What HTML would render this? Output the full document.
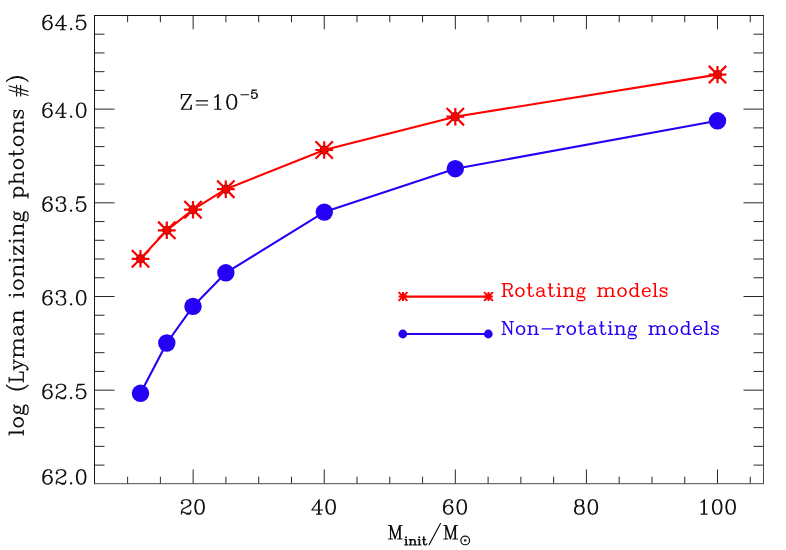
<!DOCTYPE html>
<html><head><meta charset="utf-8"><title>Lyman ionizing photons</title>
<style>html,body{margin:0;padding:0;background:#fff;font-family:"Liberation Sans",sans-serif}svg{display:block}</style>
</head><body>
<svg width="786" height="550" viewBox="0 0 786 550">
<rect width="786" height="550" fill="#fff"/>
<path d="M127.61 483.7V476.7M127.61 15.5V22.25M160.38 483.7V476.7M160.38 15.5V22.25M193.15 483.7V469.5M193.15 15.5V29.3M225.92 483.7V476.7M225.92 15.5V22.25M258.69 483.7V476.7M258.69 15.5V22.25M291.47 483.7V476.7M291.47 15.5V22.25M324.24 483.7V469.5M324.24 15.5V29.3M357.01 483.7V476.7M357.01 15.5V22.25M389.78 483.7V476.7M389.78 15.5V22.25M422.56 483.7V476.7M422.56 15.5V22.25M455.33 483.7V469.5M455.33 15.5V29.3M488.1 483.7V476.7M488.1 15.5V22.25M520.88 483.7V476.7M520.88 15.5V22.25M553.65 483.7V476.7M553.65 15.5V22.25M586.42 483.7V469.5M586.42 15.5V29.3M619.19 483.7V476.7M619.19 15.5V22.25M651.97 483.7V476.7M651.97 15.5V22.25M684.74 483.7V476.7M684.74 15.5V22.25M717.51 483.7V469.5M717.51 15.5V29.3M750.28 483.7V476.7M750.28 15.5V22.25M94.5 465.11h10M763.5 465.11h-10M94.5 446.37h10M763.5 446.37h-10M94.5 427.64h10M763.5 427.64h-10M94.5 408.91h10M763.5 408.91h-10M94.5 390.17h20M763.5 390.17h-20M94.5 371.43h10M763.5 371.43h-10M94.5 352.7h10M763.5 352.7h-10M94.5 333.97h10M763.5 333.97h-10M94.5 315.23h10M763.5 315.23h-10M94.5 296.5h20M763.5 296.5h-20M94.5 277.76h10M763.5 277.76h-10M94.5 259.02h10M763.5 259.02h-10M94.5 240.29h10M763.5 240.29h-10M94.5 221.56h10M763.5 221.56h-10M94.5 202.82h20M763.5 202.82h-20M94.5 184.08h10M763.5 184.08h-10M94.5 165.35h10M763.5 165.35h-10M94.5 146.62h10M763.5 146.62h-10M94.5 127.88h10M763.5 127.88h-10M94.5 109.14h20M763.5 109.14h-20M94.5 90.41h10M763.5 90.41h-10M94.5 71.67h10M763.5 71.67h-10M94.5 52.94h10M763.5 52.94h-10M94.5 34.2h10M763.5 34.2h-10" fill="none" stroke="#1c1c1c" stroke-width="0.95" stroke-linecap="butt" stroke-linejoin="miter"/>
<path d="M94.0 15.5H764.0M94.5 15.5V484.09999999999997" fill="none" stroke="#141414" stroke-width="1"/>
<path d="M763.5 15.5V484.09999999999997" fill="none" stroke="#484848" stroke-width="1"/>
<path d="M94.0 483.7H764.0" fill="none" stroke="#444" stroke-width="0.95"/>
<path d="M140.5 258.8L166.8 230.3L193 209.7L225.8 189.2L324.2 150L455.3 116.7L717.5 74.6" fill="none" stroke="#ff0000" stroke-width="2.1" stroke-linejoin="round"/>
<circle cx="140.5" cy="258.8" r="4.6" fill="#262020"/><circle cx="140.5" cy="258.8" r="3.0" fill="#ff0000"/>
<circle cx="166.8" cy="230.3" r="4.6" fill="#262020"/><circle cx="166.8" cy="230.3" r="3.0" fill="#ff0000"/>
<circle cx="193" cy="209.7" r="4.6" fill="#262020"/><circle cx="193" cy="209.7" r="3.0" fill="#ff0000"/>
<circle cx="225.8" cy="189.2" r="4.6" fill="#262020"/><circle cx="225.8" cy="189.2" r="3.0" fill="#ff0000"/>
<circle cx="324.2" cy="150" r="4.6" fill="#262020"/><circle cx="324.2" cy="150" r="3.0" fill="#ff0000"/>
<circle cx="455.3" cy="116.7" r="4.6" fill="#262020"/><circle cx="455.3" cy="116.7" r="3.0" fill="#ff0000"/>
<circle cx="717.5" cy="74.6" r="4.6" fill="#262020"/><circle cx="717.5" cy="74.6" r="3.0" fill="#ff0000"/>
<path d="M131.6 258.8H149.4M140.5 250.1V267.5M131.8 250.1L149.2 267.5M131.8 267.5L149.2 250.1M157.9 230.3H175.7M166.8 221.6V239M158.1 221.6L175.5 239M158.1 239L175.5 221.6M184.1 209.7H201.9M193 201V218.4M184.3 201L201.7 218.4M184.3 218.4L201.7 201M216.9 189.2H234.7M225.8 180.5V197.9M217.1 180.5L234.5 197.9M217.1 197.9L234.5 180.5M315.3 150H333.1M324.2 141.3V158.7M315.5 141.3L332.9 158.7M315.5 158.7L332.9 141.3M446.4 116.7H464.2M455.3 108V125.4M446.6 108L464 125.4M446.6 125.4L464 108M708.6 74.6H726.4M717.5 65.9V83.3M708.8 65.9L726.2 83.3M708.8 83.3L726.2 65.9" fill="none" stroke="#ff0000" stroke-width="2.2"/>
<path d="M140.5 393.3L166.8 343L193 306.4L225.85 272.8L324.3 212.1L455.3 168.7L717.5 120.8" fill="none" stroke="#2400f5" stroke-width="2.1" stroke-linejoin="round"/>
<circle cx="140.5" cy="393.3" r="8.7" fill="#2400f5"/>
<circle cx="166.8" cy="343" r="8.7" fill="#2400f5"/>
<circle cx="193" cy="306.4" r="8.7" fill="#2400f5"/>
<circle cx="225.85" cy="272.8" r="8.7" fill="#2400f5"/>
<circle cx="324.3" cy="212.1" r="8.7" fill="#2400f5"/>
<circle cx="455.3" cy="168.7" r="8.7" fill="#2400f5"/>
<circle cx="717.5" cy="120.8" r="8.7" fill="#2400f5"/>
<path d="M402.8 296.55H488.3" stroke="#ff0000" stroke-width="2.2" fill="none"/>
<path d="M398.6 296.5H407.4M403 292.1V300.9M398.6 292.1L407.4 300.9M398.6 300.9L407.4 292.1M484.1 296.5H492.9M488.5 292.1V300.9M484.1 292.1L492.9 300.9M484.1 300.9L492.9 292.1" stroke="#ff0000" stroke-width="2.0" fill="none"/>
<path d="M402.8 334.0H488.3" stroke="#2400f5" stroke-width="2.2" fill="none"/>
<circle cx="402.8" cy="334.0" r="4.4" fill="#2400f5"/><circle cx="488.3" cy="334.0" r="4.4" fill="#2400f5"/>
<path d="M50.94 17.37L50.27 18.05L50.94 18.74L51.61 18.05L51.61 17.37L50.94 16L49.6 15.31L47.58 15.31L45.56 16L44.22 17.37L43.55 18.74L42.88 21.48L42.88 25.59L43.55 27.64L44.89 29.02L46.91 29.7L48.25 29.7L50.27 29.02L51.61 27.64L52.28 25.59L52.28 24.91L51.61 22.85L50.27 21.48L48.25 20.79L47.58 20.79L45.56 21.48L44.22 22.85L43.55 24.91M47.58 15.31L46.24 16L44.89 17.37L44.22 18.74L43.55 21.48L43.55 25.59L44.22 27.64L45.56 29.02L46.91 29.7M48.25 29.7L49.6 29.02L50.94 27.64L51.61 25.59L51.61 24.91L50.94 22.85L49.6 21.48L48.25 20.79M62.36 16.68L62.36 29.7M63.04 15.31L63.04 29.7M63.04 15.31L55.64 25.59L66.4 25.59M60.35 29.7L65.05 29.7M71.1 28.33L70.43 29.02L71.1 29.7L71.77 29.02L71.1 28.33M77.82 15.31L76.48 22.16M76.48 22.16L77.82 20.79L79.84 20.11L81.85 20.11L83.87 20.79L85.21 22.16L85.88 24.22L85.88 25.59L85.21 27.64L83.87 29.02L81.85 29.7L79.84 29.7L77.82 29.02L77.15 28.33L76.48 26.96L76.48 26.27L77.15 25.59L77.82 26.27L77.15 26.96M81.85 20.11L83.2 20.79L84.54 22.16L85.21 24.22L85.21 25.59L84.54 27.64L83.2 29.02L81.85 29.7M77.82 15.31L84.54 15.31M77.82 16L81.18 16L84.54 15.31" fill="none" stroke="#111" stroke-width="1.15" stroke-linecap="round" stroke-linejoin="round"/>
<path d="M50.94 105.07L50.27 105.76L50.94 106.44L51.61 105.76L51.61 105.07L50.94 103.7L49.6 103.02L47.58 103.02L45.56 103.7L44.22 105.07L43.55 106.44L42.88 109.18L42.88 113.29L43.55 115.34L44.89 116.72L46.91 117.4L48.25 117.4L50.27 116.72L51.61 115.34L52.28 113.29L52.28 112.61L51.61 110.55L50.27 109.18L48.25 108.5L47.58 108.5L45.56 109.18L44.22 110.55L43.55 112.61M47.58 103.02L46.24 103.7L44.89 105.07L44.22 106.44L43.55 109.18L43.55 113.29L44.22 115.34L45.56 116.72L46.91 117.4M48.25 117.4L49.6 116.72L50.94 115.34L51.61 113.29L51.61 112.61L50.94 110.55L49.6 109.18L48.25 108.5M62.36 104.39L62.36 117.4M63.04 103.02L63.04 117.4M63.04 103.02L55.64 113.29L66.4 113.29M60.35 117.4L65.05 117.4M71.1 116.03L70.43 116.72L71.1 117.4L71.77 116.72L71.1 116.03M80.51 103.02L78.49 103.7L77.15 105.76L76.48 109.18L76.48 111.23L77.15 114.66L78.49 116.72L80.51 117.4L81.85 117.4L83.87 116.72L85.21 114.66L85.88 111.23L85.88 109.18L85.21 105.76L83.87 103.7L81.85 103.02L80.51 103.02M80.51 103.02L79.16 103.7L78.49 104.39L77.82 105.76L77.15 109.18L77.15 111.23L77.82 114.66L78.49 116.03L79.16 116.72L80.51 117.4M81.85 117.4L83.2 116.72L83.87 116.03L84.54 114.66L85.21 111.23L85.21 109.18L84.54 105.76L83.87 104.39L83.2 103.7L81.85 103.02" fill="none" stroke="#111" stroke-width="1.15" stroke-linecap="round" stroke-linejoin="round"/>
<path d="M50.94 198.99L50.27 199.67L50.94 200.36L51.61 199.67L51.61 198.99L50.94 197.62L49.6 196.94L47.58 196.94L45.56 197.62L44.22 198.99L43.55 200.36L42.88 203.1L42.88 207.21L43.55 209.26L44.89 210.63L46.91 211.32L48.25 211.32L50.27 210.63L51.61 209.26L52.28 207.21L52.28 206.53L51.61 204.47L50.27 203.1L48.25 202.41L47.58 202.41L45.56 203.1L44.22 204.47L43.55 206.53M47.58 196.94L46.24 197.62L44.89 198.99L44.22 200.36L43.55 203.1L43.55 207.21L44.22 209.26L45.56 210.63L46.91 211.32M48.25 211.32L49.6 210.63L50.94 209.26L51.61 207.21L51.61 206.53L50.94 204.47L49.6 203.1L48.25 202.41M56.99 199.67L57.66 200.36L56.99 201.04L56.32 200.36L56.32 199.67L56.99 198.31L57.66 197.62L59.68 196.94L62.36 196.94L64.38 197.62L65.05 198.99L65.05 201.04L64.38 202.41L62.36 203.1L60.35 203.1M62.36 196.94L63.71 197.62L64.38 198.99L64.38 201.04L63.71 202.41L62.36 203.1M62.36 203.1L63.71 203.78L65.05 205.16L65.72 206.53L65.72 208.58L65.05 209.95L64.38 210.63L62.36 211.32L59.68 211.32L57.66 210.63L56.99 209.95L56.32 208.58L56.32 207.89L56.99 207.21L57.66 207.89L56.99 208.58M64.38 204.47L65.05 206.53L65.05 208.58L64.38 209.95L63.71 210.63L62.36 211.32M71.1 209.95L70.43 210.63L71.1 211.32L71.77 210.63L71.1 209.95M77.82 196.94L76.48 203.78M76.48 203.78L77.82 202.41L79.84 201.73L81.85 201.73L83.87 202.41L85.21 203.78L85.88 205.84L85.88 207.21L85.21 209.26L83.87 210.63L81.85 211.32L79.84 211.32L77.82 210.63L77.15 209.95L76.48 208.58L76.48 207.89L77.15 207.21L77.82 207.89L77.15 208.58M81.85 201.73L83.2 202.41L84.54 203.78L85.21 205.84L85.21 207.21L84.54 209.26L83.2 210.63L81.85 211.32M77.82 196.94L84.54 196.94M77.82 197.62L81.18 197.62L84.54 196.94" fill="none" stroke="#111" stroke-width="1.15" stroke-linecap="round" stroke-linejoin="round"/>
<path d="M50.94 292.67L50.27 293.35L50.94 294.04L51.61 293.35L51.61 292.67L50.94 291.3L49.6 290.61L47.58 290.61L45.56 291.3L44.22 292.67L43.55 294.04L42.88 296.77L42.88 300.88L43.55 302.94L44.89 304.31L46.91 305L48.25 305L50.27 304.31L51.61 302.94L52.28 300.88L52.28 300.2L51.61 298.14L50.27 296.77L48.25 296.09L47.58 296.09L45.56 296.77L44.22 298.14L43.55 300.2M47.58 290.61L46.24 291.3L44.89 292.67L44.22 294.04L43.55 296.77L43.55 300.88L44.22 302.94L45.56 304.31L46.91 305M48.25 305L49.6 304.31L50.94 302.94L51.61 300.88L51.61 300.2L50.94 298.14L49.6 296.77L48.25 296.09M56.99 293.35L57.66 294.04L56.99 294.72L56.32 294.04L56.32 293.35L56.99 291.98L57.66 291.3L59.68 290.61L62.36 290.61L64.38 291.3L65.05 292.67L65.05 294.72L64.38 296.09L62.36 296.77L60.35 296.77M62.36 290.61L63.71 291.3L64.38 292.67L64.38 294.72L63.71 296.09L62.36 296.77M62.36 296.77L63.71 297.46L65.05 298.83L65.72 300.2L65.72 302.25L65.05 303.62L64.38 304.31L62.36 305L59.68 305L57.66 304.31L56.99 303.62L56.32 302.25L56.32 301.57L56.99 300.88L57.66 301.57L56.99 302.25M64.38 298.14L65.05 300.2L65.05 302.25L64.38 303.62L63.71 304.31L62.36 305M71.1 303.62L70.43 304.31L71.1 305L71.77 304.31L71.1 303.62M80.51 290.61L78.49 291.3L77.15 293.35L76.48 296.77L76.48 298.83L77.15 302.25L78.49 304.31L80.51 305L81.85 305L83.87 304.31L85.21 302.25L85.88 298.83L85.88 296.77L85.21 293.35L83.87 291.3L81.85 290.61L80.51 290.61M80.51 290.61L79.16 291.3L78.49 291.98L77.82 293.35L77.15 296.77L77.15 298.83L77.82 302.25L78.49 303.62L79.16 304.31L80.51 305M81.85 305L83.2 304.31L83.87 303.62L84.54 302.25L85.21 298.83L85.21 296.77L84.54 293.35L83.87 291.98L83.2 291.3L81.85 290.61" fill="none" stroke="#111" stroke-width="1.15" stroke-linecap="round" stroke-linejoin="round"/>
<path d="M50.94 386.34L50.27 387.03L50.94 387.71L51.61 387.03L51.61 386.34L50.94 384.97L49.6 384.29L47.58 384.29L45.56 384.97L44.22 386.34L43.55 387.71L42.88 390.45L42.88 394.56L43.55 396.62L44.89 397.99L46.91 398.67L48.25 398.67L50.27 397.99L51.61 396.62L52.28 394.56L52.28 393.88L51.61 391.82L50.27 390.45L48.25 389.76L47.58 389.76L45.56 390.45L44.22 391.82L43.55 393.88M47.58 384.29L46.24 384.97L44.89 386.34L44.22 387.71L43.55 390.45L43.55 394.56L44.22 396.62L45.56 397.99L46.91 398.67M48.25 398.67L49.6 397.99L50.94 396.62L51.61 394.56L51.61 393.88L50.94 391.82L49.6 390.45L48.25 389.76M56.99 387.03L57.66 387.71L56.99 388.4L56.32 387.71L56.32 387.03L56.99 385.66L57.66 384.97L59.68 384.29L62.36 384.29L64.38 384.97L65.05 385.66L65.72 387.03L65.72 388.4L65.05 389.76L63.04 391.13L59.68 392.5L58.33 393.19L56.99 394.56L56.32 396.62L56.32 398.67M62.36 384.29L63.71 384.97L64.38 385.66L65.05 387.03L65.05 388.4L64.38 389.76L62.36 391.13L59.68 392.5M56.32 397.3L56.99 396.62L58.33 396.62L61.69 397.99L63.71 397.99L65.05 397.3L65.72 396.62M58.33 396.62L61.69 398.67L64.38 398.67L65.05 397.99L65.72 396.62L65.72 395.25M71.1 397.3L70.43 397.99L71.1 398.67L71.77 397.99L71.1 397.3M77.82 384.29L76.48 391.13M76.48 391.13L77.82 389.76L79.84 389.08L81.85 389.08L83.87 389.76L85.21 391.13L85.88 393.19L85.88 394.56L85.21 396.62L83.87 397.99L81.85 398.67L79.84 398.67L77.82 397.99L77.15 397.3L76.48 395.93L76.48 395.25L77.15 394.56L77.82 395.25L77.15 395.93M81.85 389.08L83.2 389.76L84.54 391.13L85.21 393.19L85.21 394.56L84.54 396.62L83.2 397.99L81.85 398.67M77.82 384.29L84.54 384.29M77.82 384.97L81.18 384.97L84.54 384.29" fill="none" stroke="#111" stroke-width="1.15" stroke-linecap="round" stroke-linejoin="round"/>
<path d="M50.94 471.77L50.27 472.46L50.94 473.14L51.61 472.46L51.61 471.77L50.94 470.4L49.6 469.72L47.58 469.72L45.56 470.4L44.22 471.77L43.55 473.14L42.88 475.88L42.88 479.99L43.55 482.05L44.89 483.42L46.91 484.1L48.25 484.1L50.27 483.42L51.61 482.05L52.28 479.99L52.28 479.31L51.61 477.25L50.27 475.88L48.25 475.2L47.58 475.2L45.56 475.88L44.22 477.25L43.55 479.31M47.58 469.72L46.24 470.4L44.89 471.77L44.22 473.14L43.55 475.88L43.55 479.99L44.22 482.05L45.56 483.42L46.91 484.1M48.25 484.1L49.6 483.42L50.94 482.05L51.61 479.99L51.61 479.31L50.94 477.25L49.6 475.88L48.25 475.2M56.99 472.46L57.66 473.14L56.99 473.83L56.32 473.14L56.32 472.46L56.99 471.09L57.66 470.4L59.68 469.72L62.36 469.72L64.38 470.4L65.05 471.09L65.72 472.46L65.72 473.83L65.05 475.2L63.04 476.56L59.68 477.94L58.33 478.62L56.99 479.99L56.32 482.05L56.32 484.1M62.36 469.72L63.71 470.4L64.38 471.09L65.05 472.46L65.05 473.83L64.38 475.2L62.36 476.56L59.68 477.94M56.32 482.73L56.99 482.05L58.33 482.05L61.69 483.42L63.71 483.42L65.05 482.73L65.72 482.05M58.33 482.05L61.69 484.1L64.38 484.1L65.05 483.42L65.72 482.05L65.72 480.68M71.1 482.73L70.43 483.42L71.1 484.1L71.77 483.42L71.1 482.73M80.51 469.72L78.49 470.4L77.15 472.46L76.48 475.88L76.48 477.94L77.15 481.36L78.49 483.42L80.51 484.1L81.85 484.1L83.87 483.42L85.21 481.36L85.88 477.94L85.88 475.88L85.21 472.46L83.87 470.4L81.85 469.72L80.51 469.72M80.51 469.72L79.16 470.4L78.49 471.09L77.82 472.46L77.15 475.88L77.15 477.94L77.82 481.36L78.49 482.73L79.16 483.42L80.51 484.1M81.85 484.1L83.2 483.42L83.87 482.73L84.54 481.36L85.21 477.94L85.21 475.88L84.54 472.46L83.87 471.09L83.2 470.4L81.85 469.72" fill="none" stroke="#111" stroke-width="1.15" stroke-linecap="round" stroke-linejoin="round"/>
<path d="M182.1 502.46L182.77 503.14L182.1 503.83L181.43 503.14L181.43 502.46L182.1 501.09L182.77 500.4L184.79 499.72L187.47 499.72L189.49 500.4L190.16 501.09L190.83 502.46L190.83 503.83L190.16 505.2L188.15 506.56L184.79 507.94L183.44 508.62L182.1 509.99L181.43 512.05L181.43 514.1M187.47 499.72L188.82 500.4L189.49 501.09L190.16 502.46L190.16 503.83L189.49 505.2L187.47 506.56L184.79 507.94M181.43 512.73L182.1 512.05L183.44 512.05L186.8 513.42L188.82 513.42L190.16 512.73L190.83 512.05M183.44 512.05L186.8 514.1L189.49 514.1L190.16 513.42L190.83 512.05L190.83 510.68M198.9 499.72L196.88 500.4L195.54 502.46L194.87 505.88L194.87 507.94L195.54 511.36L196.88 513.42L198.9 514.1L200.24 514.1L202.26 513.42L203.6 511.36L204.27 507.94L204.27 505.88L203.6 502.46L202.26 500.4L200.24 499.72L198.9 499.72M198.9 499.72L197.55 500.4L196.88 501.09L196.21 502.46L195.54 505.88L195.54 507.94L196.21 511.36L196.88 512.73L197.55 513.42L198.9 514.1M200.24 514.1L201.59 513.42L202.26 512.73L202.93 511.36L203.6 507.94L203.6 505.88L202.93 502.46L202.26 501.09L201.59 500.4L200.24 499.72" fill="none" stroke="#111" stroke-width="1.15" stroke-linecap="round" stroke-linejoin="round"/>
<path d="M318.56 501.09L318.56 514.1M319.24 499.72L319.24 514.1M319.24 499.72L311.84 509.99L322.6 509.99M316.55 514.1L321.25 514.1M329.99 499.72L327.97 500.4L326.63 502.46L325.96 505.88L325.96 507.94L326.63 511.36L327.97 513.42L329.99 514.1L331.33 514.1L333.35 513.42L334.69 511.36L335.36 507.94L335.36 505.88L334.69 502.46L333.35 500.4L331.33 499.72L329.99 499.72M329.99 499.72L328.64 500.4L327.97 501.09L327.3 502.46L326.63 505.88L326.63 507.94L327.3 511.36L327.97 512.73L328.64 513.42L329.99 514.1M331.33 514.1L332.68 513.42L333.35 512.73L334.02 511.36L334.69 507.94L334.69 505.88L334.02 502.46L333.35 501.09L332.68 500.4L331.33 499.72" fill="none" stroke="#111" stroke-width="1.15" stroke-linecap="round" stroke-linejoin="round"/>
<path d="M451.67 501.77L451 502.46L451.67 503.14L452.34 502.46L452.34 501.77L451.67 500.4L450.33 499.72L448.31 499.72L446.29 500.4L444.95 501.77L444.28 503.14L443.61 505.88L443.61 509.99L444.28 512.05L445.62 513.42L447.64 514.1L448.98 514.1L451 513.42L452.34 512.05L453.01 509.99L453.01 509.31L452.34 507.25L451 505.88L448.98 505.2L448.31 505.2L446.29 505.88L444.95 507.25L444.28 509.31M448.31 499.72L446.97 500.4L445.62 501.77L444.95 503.14L444.28 505.88L444.28 509.99L444.95 512.05L446.29 513.42L447.64 514.1M448.98 514.1L450.33 513.42L451.67 512.05L452.34 509.99L452.34 509.31L451.67 507.25L450.33 505.88L448.98 505.2M461.08 499.72L459.06 500.4L457.72 502.46L457.05 505.88L457.05 507.94L457.72 511.36L459.06 513.42L461.08 514.1L462.42 514.1L464.44 513.42L465.78 511.36L466.45 507.94L466.45 505.88L465.78 502.46L464.44 500.4L462.42 499.72L461.08 499.72M461.08 499.72L459.73 500.4L459.06 501.09L458.39 502.46L457.72 505.88L457.72 507.94L458.39 511.36L459.06 512.73L459.73 513.42L461.08 514.1M462.42 514.1L463.77 513.42L464.44 512.73L465.11 511.36L465.78 507.94L465.78 505.88L465.11 502.46L464.44 501.09L463.77 500.4L462.42 499.72" fill="none" stroke="#111" stroke-width="1.15" stroke-linecap="round" stroke-linejoin="round"/>
<path d="M578.06 499.72L576.04 500.4L575.37 501.77L575.37 503.83L576.04 505.2L578.06 505.88L580.74 505.88L582.76 505.2L583.43 503.83L583.43 501.77L582.76 500.4L580.74 499.72L578.06 499.72M578.06 499.72L576.71 500.4L576.04 501.77L576.04 503.83L576.71 505.2L578.06 505.88M580.74 505.88L582.09 505.2L582.76 503.83L582.76 501.77L582.09 500.4L580.74 499.72M578.06 505.88L576.04 506.56L575.37 507.25L574.7 508.62L574.7 511.36L575.37 512.73L576.04 513.42L578.06 514.1L580.74 514.1L582.76 513.42L583.43 512.73L584.1 511.36L584.1 508.62L583.43 507.25L582.76 506.56L580.74 505.88M578.06 505.88L576.71 506.56L576.04 507.25L575.37 508.62L575.37 511.36L576.04 512.73L576.71 513.42L578.06 514.1M580.74 514.1L582.09 513.42L582.76 512.73L583.43 511.36L583.43 508.62L582.76 507.25L582.09 506.56L580.74 505.88M592.17 499.72L590.15 500.4L588.81 502.46L588.14 505.88L588.14 507.94L588.81 511.36L590.15 513.42L592.17 514.1L593.51 514.1L595.53 513.42L596.87 511.36L597.54 507.94L597.54 505.88L596.87 502.46L595.53 500.4L593.51 499.72L592.17 499.72M592.17 499.72L590.82 500.4L590.15 501.09L589.48 502.46L588.81 505.88L588.81 507.94L589.48 511.36L590.15 512.73L590.82 513.42L592.17 514.1M593.51 514.1L594.86 513.42L595.53 512.73L596.2 511.36L596.87 507.94L596.87 505.88L596.2 502.46L595.53 501.09L594.86 500.4L593.51 499.72" fill="none" stroke="#111" stroke-width="1.15" stroke-linecap="round" stroke-linejoin="round"/>
<path d="M701.08 502.46L702.43 501.77L704.44 499.72L704.44 514.1M703.77 500.4L703.77 514.1M701.08 514.1L707.13 514.1M716.54 499.72L714.52 500.4L713.18 502.46L712.51 505.88L712.51 507.94L713.18 511.36L714.52 513.42L716.54 514.1L717.88 514.1L719.9 513.42L721.24 511.36L721.91 507.94L721.91 505.88L721.24 502.46L719.9 500.4L717.88 499.72L716.54 499.72M716.54 499.72L715.19 500.4L714.52 501.09L713.85 502.46L713.18 505.88L713.18 507.94L713.85 511.36L714.52 512.73L715.19 513.42L716.54 514.1M717.88 514.1L719.23 513.42L719.9 512.73L720.57 511.36L721.24 507.94L721.24 505.88L720.57 502.46L719.9 501.09L719.23 500.4L717.88 499.72M729.98 499.72L727.96 500.4L726.62 502.46L725.95 505.88L725.95 507.94L726.62 511.36L727.96 513.42L729.98 514.1L731.32 514.1L733.34 513.42L734.68 511.36L735.35 507.94L735.35 505.88L734.68 502.46L733.34 500.4L731.32 499.72L729.98 499.72M729.98 499.72L728.63 500.4L727.96 501.09L727.29 502.46L726.62 505.88L726.62 507.94L727.29 511.36L727.96 512.73L728.63 513.42L729.98 514.1M731.32 514.1L732.67 513.42L733.34 512.73L734.01 511.36L734.68 507.94L734.68 505.88L734.01 502.46L733.34 501.09L732.67 500.4L731.32 499.72" fill="none" stroke="#111" stroke-width="1.15" stroke-linecap="round" stroke-linejoin="round"/>
<path d="M503.84 283.59L503.84 296.4M504.43 283.59L504.43 296.4M502.04 283.59L509.21 283.59L511 284.2L511.6 284.81L512.19 286.03L512.19 287.25L511.6 288.47L511 289.08L509.21 289.69L504.43 289.69M509.21 283.59L510.4 284.2L511 284.81L511.6 286.03L511.6 287.25L511 288.47L510.4 289.08L509.21 289.69M502.04 296.4L506.22 296.4M507.42 289.69L508.61 290.3L509.21 290.91L511 295.18L511.6 295.79L512.19 295.79L512.79 295.18M508.61 290.3L509.21 291.52L510.4 295.79L511 296.4L512.19 296.4L512.79 295.18L512.79 294.57M519.36 287.86L517.57 288.47L516.37 289.69L515.77 291.52L515.77 292.74L516.37 294.57L517.57 295.79L519.36 296.4L520.55 296.4L522.34 295.79L523.54 294.57L524.13 292.74L524.13 291.52L523.54 289.69L522.34 288.47L520.55 287.86L519.36 287.86M519.36 287.86L518.16 288.47L516.97 289.69L516.37 291.52L516.37 292.74L516.97 294.57L518.16 295.79L519.36 296.4M520.55 296.4L521.75 295.79L522.94 294.57L523.54 292.74L523.54 291.52L522.94 289.69L521.75 288.47L520.55 287.86M528.91 283.59L528.91 293.96L529.51 295.79L530.7 296.4L531.89 296.4L533.09 295.79L533.69 294.57M529.51 283.59L529.51 293.96L530.1 295.79L530.7 296.4M527.12 287.86L531.89 287.86M537.86 289.08L537.86 289.69L537.27 289.69L537.27 289.08L537.86 288.47L539.06 287.86L541.45 287.86L542.64 288.47L543.24 289.08L543.83 290.3L543.83 294.57L544.43 295.79L545.03 296.4M543.24 289.08L543.24 294.57L543.83 295.79L545.03 296.4L545.62 296.4M543.24 290.3L542.64 290.91L539.06 291.52L537.27 292.13L536.67 293.35L536.67 294.57L537.27 295.79L539.06 296.4L540.85 296.4L542.04 295.79L543.24 294.57M539.06 291.52L537.86 292.13L537.27 293.35L537.27 294.57L537.86 295.79L539.06 296.4M549.8 283.59L549.8 293.96L550.4 295.79L551.6 296.4L552.79 296.4L553.98 295.79L554.58 294.57M550.4 283.59L550.4 293.96L551 295.79L551.6 296.4M548.01 287.86L552.79 287.86M558.76 283.59L558.16 284.2L558.76 284.81L559.36 284.2L558.76 283.59M558.76 287.86L558.76 296.4M559.36 287.86L559.36 296.4M556.97 287.86L559.36 287.86M556.97 296.4L561.15 296.4M565.33 287.86L565.33 296.4M565.92 287.86L565.92 296.4M565.92 289.69L567.12 288.47L568.91 287.86L570.1 287.86L571.89 288.47L572.49 289.69L572.49 296.4M570.1 287.86L571.3 288.47L571.89 289.69L571.89 296.4M563.53 287.86L565.92 287.86M563.53 296.4L567.71 296.4M570.1 296.4L574.28 296.4M580.25 287.86L579.06 288.47L578.46 289.08L577.86 290.3L577.86 291.52L578.46 292.74L579.06 293.35L580.25 293.96L581.45 293.96L582.64 293.35L583.24 292.74L583.83 291.52L583.83 290.3L583.24 289.08L582.64 288.47L581.45 287.86L580.25 287.86M579.06 288.47L578.46 289.69L578.46 292.13L579.06 293.35M582.64 293.35L583.24 292.13L583.24 289.69L582.64 288.47M583.24 289.08L583.83 288.47L585.03 287.86L585.03 288.47L583.83 288.47M578.46 292.74L577.86 293.35L577.27 294.57L577.27 295.18L577.86 296.4L579.65 297.01L582.64 297.01L584.43 297.62L585.03 298.23M577.27 295.18L577.86 295.79L579.65 296.4L582.64 296.4L584.43 297.01L585.03 298.23L585.03 298.84L584.43 300.06L582.64 300.67L579.06 300.67L577.27 300.06L576.67 298.84L576.67 298.23L577.27 297.01L579.06 296.4M599.36 287.86L599.36 296.4M599.95 287.86L599.95 296.4M599.95 289.69L601.15 288.47L602.94 287.86L604.13 287.86L605.92 288.47L606.52 289.69L606.52 296.4M604.13 287.86L605.33 288.47L605.92 289.69L605.92 296.4M606.52 289.69L607.71 288.47L609.5 287.86L610.7 287.86L612.49 288.47L613.09 289.69L613.09 296.4M610.7 287.86L611.89 288.47L612.49 289.69L612.49 296.4M597.56 287.86L599.95 287.86M597.56 296.4L601.74 296.4M604.13 296.4L608.31 296.4M610.7 296.4L614.88 296.4M621.44 287.86L619.65 288.47L618.46 289.69L617.86 291.52L617.86 292.74L618.46 294.57L619.65 295.79L621.44 296.4L622.64 296.4L624.43 295.79L625.62 294.57L626.22 292.74L626.22 291.52L625.62 289.69L624.43 288.47L622.64 287.86L621.44 287.86M621.44 287.86L620.25 288.47L619.06 289.69L618.46 291.52L618.46 292.74L619.06 294.57L620.25 295.79L621.44 296.4M622.64 296.4L623.83 295.79L625.03 294.57L625.62 292.74L625.62 291.52L625.03 289.69L623.83 288.47L622.64 287.86M636.97 283.59L636.97 296.4M637.56 283.59L637.56 296.4M636.97 289.69L635.77 288.47L634.58 287.86L633.38 287.86L631.59 288.47L630.4 289.69L629.8 291.52L629.8 292.74L630.4 294.57L631.59 295.79L633.38 296.4L634.58 296.4L635.77 295.79L636.97 294.57M633.38 287.86L632.19 288.47L631 289.69L630.4 291.52L630.4 292.74L631 294.57L632.19 295.79L633.38 296.4M635.17 283.59L637.56 283.59M636.97 296.4L639.35 296.4M642.94 291.52L650.1 291.52L650.1 290.3L649.5 289.08L648.91 288.47L647.71 287.86L645.92 287.86L644.13 288.47L642.94 289.69L642.34 291.52L642.34 292.74L642.94 294.57L644.13 295.79L645.92 296.4L647.12 296.4L648.91 295.79L650.1 294.57M649.5 291.52L649.5 289.69L648.91 288.47M645.92 287.86L644.73 288.47L643.53 289.69L642.94 291.52L642.94 292.74L643.53 294.57L644.73 295.79L645.92 296.4M654.88 283.59L654.88 296.4M655.47 283.59L655.47 296.4M653.09 283.59L655.47 283.59M653.09 296.4L657.26 296.4M666.22 289.08L666.82 287.86L666.82 290.3L666.22 289.08L665.62 288.47L664.43 287.86L662.04 287.86L660.85 288.47L660.25 289.08L660.25 290.3L660.85 290.91L662.04 291.52L665.02 292.74L666.22 293.35L666.82 293.96M660.25 289.69L660.85 290.3L662.04 290.91L665.02 292.13L666.22 292.74L666.82 293.35L666.82 295.18L666.22 295.79L665.02 296.4L662.64 296.4L661.44 295.79L660.85 295.18L660.25 293.96L660.25 296.4L660.85 295.18" fill="none" stroke="#ff0000" stroke-width="1.1" stroke-linecap="round" stroke-linejoin="round"/>
<path d="M503.84 321.59L503.84 334.4M504.43 321.59L511.6 333.18M504.43 322.81L511.6 334.4M511.6 321.59L511.6 334.4M502.04 321.59L504.43 321.59M509.81 321.59L513.39 321.59M502.04 334.4L505.63 334.4M519.95 325.86L518.16 326.47L516.97 327.69L516.37 329.52L516.37 330.74L516.97 332.57L518.16 333.79L519.95 334.4L521.15 334.4L522.94 333.79L524.13 332.57L524.73 330.74L524.73 329.52L524.13 327.69L522.94 326.47L521.15 325.86L519.95 325.86M519.95 325.86L518.76 326.47L517.57 327.69L516.97 329.52L516.97 330.74L517.57 332.57L518.76 333.79L519.95 334.4M521.15 334.4L522.34 333.79L523.54 332.57L524.13 330.74L524.13 329.52L523.54 327.69L522.34 326.47L521.15 325.86M529.51 325.86L529.51 334.4M530.1 325.86L530.1 334.4M530.1 327.69L531.3 326.47L533.09 325.86L534.28 325.86L536.07 326.47L536.67 327.69L536.67 334.4M534.28 325.86L535.48 326.47L536.07 327.69L536.07 334.4M527.72 325.86L530.1 325.86M527.72 334.4L531.89 334.4M534.28 334.4L538.46 334.4M542.04 328.91L552.79 328.91M558.16 325.86L558.16 334.4M558.76 325.86L558.76 334.4M558.76 329.52L559.36 327.69L560.55 326.47L561.74 325.86L563.53 325.86L564.13 326.47L564.13 327.08L563.53 327.69L562.94 327.08L563.53 326.47M556.37 325.86L558.76 325.86M556.37 334.4L560.55 334.4M570.7 325.86L568.91 326.47L567.71 327.69L567.12 329.52L567.12 330.74L567.71 332.57L568.91 333.79L570.7 334.4L571.89 334.4L573.68 333.79L574.88 332.57L575.48 330.74L575.48 329.52L574.88 327.69L573.68 326.47L571.89 325.86L570.7 325.86M570.7 325.86L569.5 326.47L568.31 327.69L567.71 329.52L567.71 330.74L568.31 332.57L569.5 333.79L570.7 334.4M571.89 334.4L573.09 333.79L574.28 332.57L574.88 330.74L574.88 329.52L574.28 327.69L573.09 326.47L571.89 325.86M580.25 321.59L580.25 331.96L580.85 333.79L582.04 334.4L583.24 334.4L584.43 333.79L585.03 332.57M580.85 321.59L580.85 331.96L581.45 333.79L582.04 334.4M578.46 325.86L583.24 325.86M589.21 327.08L589.21 327.69L588.61 327.69L588.61 327.08L589.21 326.47L590.4 325.86L592.79 325.86L593.98 326.47L594.58 327.08L595.18 328.3L595.18 332.57L595.77 333.79L596.37 334.4M594.58 327.08L594.58 332.57L595.18 333.79L596.37 334.4L596.97 334.4M594.58 328.3L593.98 328.91L590.4 329.52L588.61 330.13L588.01 331.35L588.01 332.57L588.61 333.79L590.4 334.4L592.19 334.4L593.38 333.79L594.58 332.57M590.4 329.52L589.21 330.13L588.61 331.35L588.61 332.57L589.21 333.79L590.4 334.4M601.15 321.59L601.15 331.96L601.74 333.79L602.94 334.4L604.13 334.4L605.33 333.79L605.92 332.57M601.74 321.59L601.74 331.96L602.34 333.79L602.94 334.4M599.36 325.86L604.13 325.86M610.1 321.59L609.5 322.2L610.1 322.81L610.7 322.2L610.1 321.59M610.1 325.86L610.1 334.4M610.7 325.86L610.7 334.4M608.31 325.86L610.7 325.86M608.31 334.4L612.49 334.4M616.67 325.86L616.67 334.4M617.26 325.86L617.26 334.4M617.26 327.69L618.46 326.47L620.25 325.86L621.44 325.86L623.24 326.47L623.83 327.69L623.83 334.4M621.44 325.86L622.64 326.47L623.24 327.69L623.24 334.4M614.88 325.86L617.26 325.86M614.88 334.4L619.06 334.4M621.44 334.4L625.62 334.4M631.59 325.86L630.4 326.47L629.8 327.08L629.21 328.3L629.21 329.52L629.8 330.74L630.4 331.35L631.59 331.96L632.79 331.96L633.98 331.35L634.58 330.74L635.17 329.52L635.17 328.3L634.58 327.08L633.98 326.47L632.79 325.86L631.59 325.86M630.4 326.47L629.8 327.69L629.8 330.13L630.4 331.35M633.98 331.35L634.58 330.13L634.58 327.69L633.98 326.47M634.58 327.08L635.17 326.47L636.37 325.86L636.37 326.47L635.17 326.47M629.8 330.74L629.21 331.35L628.61 332.57L628.61 333.18L629.21 334.4L631 335.01L633.98 335.01L635.77 335.62L636.37 336.23M628.61 333.18L629.21 333.79L631 334.4L633.98 334.4L635.77 335.01L636.37 336.23L636.37 336.84L635.77 338.06L633.98 338.67L630.4 338.67L628.61 338.06L628.01 336.84L628.01 336.23L628.61 335.01L630.4 334.4M650.7 325.86L650.7 334.4M651.29 325.86L651.29 334.4M651.29 327.69L652.49 326.47L654.28 325.86L655.47 325.86L657.26 326.47L657.86 327.69L657.86 334.4M655.47 325.86L656.67 326.47L657.26 327.69L657.26 334.4M657.86 327.69L659.06 326.47L660.85 325.86L662.04 325.86L663.83 326.47L664.43 327.69L664.43 334.4M662.04 325.86L663.23 326.47L663.83 327.69L663.83 334.4M648.91 325.86L651.29 325.86M648.91 334.4L653.09 334.4M655.47 334.4L659.65 334.4M662.04 334.4L666.22 334.4M672.79 325.86L671 326.47L669.8 327.69L669.2 329.52L669.2 330.74L669.8 332.57L671 333.79L672.79 334.4L673.98 334.4L675.77 333.79L676.97 332.57L677.56 330.74L677.56 329.52L676.97 327.69L675.77 326.47L673.98 325.86L672.79 325.86M672.79 325.86L671.59 326.47L670.4 327.69L669.8 329.52L669.8 330.74L670.4 332.57L671.59 333.79L672.79 334.4M673.98 334.4L675.17 333.79L676.37 332.57L676.97 330.74L676.97 329.52L676.37 327.69L675.17 326.47L673.98 325.86M688.31 321.59L688.31 334.4M688.9 321.59L688.9 334.4M688.31 327.69L687.11 326.47L685.92 325.86L684.73 325.86L682.93 326.47L681.74 327.69L681.14 329.52L681.14 330.74L681.74 332.57L682.93 333.79L684.73 334.4L685.92 334.4L687.11 333.79L688.31 332.57M684.73 325.86L683.53 326.47L682.34 327.69L681.74 329.52L681.74 330.74L682.34 332.57L683.53 333.79L684.73 334.4M686.52 321.59L688.9 321.59M688.31 334.4L690.7 334.4M694.28 329.52L701.44 329.52L701.44 328.3L700.85 327.08L700.25 326.47L699.05 325.86L697.26 325.86L695.47 326.47L694.28 327.69L693.68 329.52L693.68 330.74L694.28 332.57L695.47 333.79L697.26 334.4L698.46 334.4L700.25 333.79L701.44 332.57M700.85 329.52L700.85 327.69L700.25 326.47M697.26 325.86L696.07 326.47L694.88 327.69L694.28 329.52L694.28 330.74L694.88 332.57L696.07 333.79L697.26 334.4M706.22 321.59L706.22 334.4M706.82 321.59L706.82 334.4M704.43 321.59L706.82 321.59M704.43 334.4L708.61 334.4M717.56 327.08L718.16 325.86L718.16 328.3L717.56 327.08L716.96 326.47L715.77 325.86L713.38 325.86L712.19 326.47L711.59 327.08L711.59 328.3L712.19 328.91L713.38 329.52L716.37 330.74L717.56 331.35L718.16 331.96M711.59 327.69L712.19 328.3L713.38 328.91L716.37 330.13L717.56 330.74L718.16 331.35L718.16 333.18L717.56 333.79L716.37 334.4L713.98 334.4L712.79 333.79L712.19 333.18L711.59 331.96L711.59 334.4L712.19 333.18" fill="none" stroke="#2400f5" stroke-width="1.1" stroke-linecap="round" stroke-linejoin="round"/>
<path d="M190.56 94.5L181.33 109.2M191.27 94.5L182.04 109.2M182.04 94.5L181.33 98.7L181.33 94.5L191.27 94.5M181.33 109.2L191.27 109.2L191.27 105L190.56 109.2M196.24 100.8L207.6 100.8M196.24 105L207.6 105M214.7 97.3L216.12 96.6L218.25 94.5L218.25 109.2M217.54 95.2L217.54 109.2M214.7 109.2L221.09 109.2M231.03 94.5L228.9 95.2L227.48 97.3L226.77 100.8L226.77 102.9L227.48 106.4L228.9 108.5L231.03 109.2L232.45 109.2L234.58 108.5L236 106.4L236.71 102.9L236.71 100.8L236 97.3L234.58 95.2L232.45 94.5L231.03 94.5M231.03 94.5L229.61 95.2L228.9 95.9L228.19 97.3L227.48 100.8L227.48 102.9L228.19 106.4L228.9 107.8L229.61 108.5L231.03 109.2M232.45 109.2L233.87 108.5L234.58 107.8L235.29 106.4L236 102.9L236 100.8L235.29 97.3L234.58 95.9L233.87 95.2L232.45 94.5" fill="none" stroke="#111" stroke-width="1.15" stroke-linecap="round" stroke-linejoin="round"/>
<path d="M240.98 94.75L248.54 94.75M252.32 89.95L251.48 93.95M251.48 93.95L252.32 93.15L253.58 92.75L254.84 92.75L256.1 93.15L256.94 93.95L257.36 95.15L257.36 95.95L256.94 97.15L256.1 97.95L254.84 98.35L253.58 98.35L252.32 97.95L251.9 97.55L251.48 96.75L251.48 96.35L251.9 95.95L252.32 96.35L251.9 96.75M254.84 92.75L255.68 93.15L256.52 93.95L256.94 95.15L256.94 95.95L256.52 97.15L255.68 97.95L254.84 98.35M252.32 89.95L256.52 89.95M252.32 90.35L254.42 90.35L256.52 89.95" fill="none" stroke="#111" stroke-width="1.15" stroke-linecap="round" stroke-linejoin="round"/>
<path d="M9.12 432.89L23.3 432.89M9.12 432.23L23.3 432.23M9.12 434.88L9.12 432.23M23.3 434.88L23.3 430.24M13.85 422.96L14.53 424.95L15.88 426.27L17.9 426.93L19.25 426.93L21.27 426.27L22.62 424.95L23.3 422.96L23.3 421.64L22.62 419.65L21.27 418.33L19.25 417.66L17.9 417.66L15.88 418.33L14.53 419.65L13.85 421.64L13.85 422.96M13.85 422.96L14.53 424.28L15.88 425.61L17.9 426.27L19.25 426.27L21.27 425.61L22.62 424.28L23.3 422.96M23.3 421.64L22.62 420.31L21.27 418.99L19.25 418.33L17.9 418.33L15.88 418.99L14.53 420.31L13.85 421.64M13.85 410.38L14.53 411.71L15.2 412.37L16.55 413.03L17.9 413.03L19.25 412.37L19.93 411.71L20.6 410.38L20.6 409.06L19.93 407.73L19.25 407.07L17.9 406.41L16.55 406.41L15.2 407.07L14.53 407.73L13.85 409.06L13.85 410.38M14.53 411.71L15.88 412.37L18.57 412.37L19.93 411.71M19.93 407.73L18.58 407.07L15.88 407.07L14.53 407.73M15.2 407.07L14.53 406.41L13.85 405.09L14.53 405.09L14.53 406.41M19.25 412.37L19.93 413.03L21.27 413.69L21.95 413.69L23.3 413.03L23.98 411.04L23.98 407.73L24.65 405.75L25.33 405.09M21.95 413.69L22.62 413.03L23.3 411.04L23.3 407.73L23.98 405.75L25.33 405.09L26 405.09L27.35 405.75L28.03 407.73L28.03 411.71L27.35 413.69L26 414.35L25.33 414.35L23.98 413.69L23.3 411.71M6.43 385.23L7.78 386.55L9.8 387.87L12.5 389.2L15.88 389.86L18.58 389.86L21.95 389.2L24.65 387.87L26.68 386.55L28.03 385.23M7.78 386.55L10.48 387.87L12.5 388.54L15.88 389.2L18.58 389.2L21.95 388.54L23.98 387.87L26.68 386.55M9.13 379.93L23.3 379.93M9.13 379.27L23.3 379.27M9.13 381.92L9.13 377.28M23.3 381.92L23.3 371.99L19.25 371.99L23.3 372.65M13.85 368.68L23.3 364.7M13.85 368.01L21.95 364.7M13.85 360.73L23.3 364.7L26 366.03L27.35 367.35L28.03 368.68L28.03 369.34L27.35 370L26.68 369.34L27.35 368.68M13.85 370L13.85 366.03M13.85 363.38L13.85 359.41M13.85 355.44L23.3 355.44M13.85 354.77L23.3 354.77M15.88 354.77L14.53 353.45L13.85 351.46L13.85 350.14L14.53 348.15L15.88 347.49L23.3 347.49M13.85 350.14L14.53 348.82L15.88 348.15L23.3 348.15M15.88 347.49L14.53 346.17L13.85 344.18L13.85 342.86L14.53 340.87L15.88 340.21L23.3 340.21M13.85 342.86L14.53 341.53L15.88 340.87L23.3 340.87M13.85 357.42L13.85 354.77M23.3 357.42L23.3 352.79M23.3 350.14L23.3 345.51M23.3 342.86L23.3 338.22M15.2 333.59L15.88 333.59L15.88 334.25L15.2 334.25L14.53 333.59L13.85 332.27L13.85 329.62L14.53 328.29L15.2 327.63L16.55 326.97L21.28 326.97L22.63 326.31L23.3 325.65M15.2 327.63L21.28 327.63L22.63 326.97L23.3 325.65L23.3 324.98M16.55 327.63L17.23 328.29L17.9 332.27L18.58 334.25L19.93 334.91L21.28 334.91L22.63 334.25L23.3 332.27L23.3 330.28L22.63 328.96L21.28 327.63M17.9 332.27L18.58 333.59L19.93 334.25L21.28 334.25L22.63 333.59L23.3 332.27M13.85 320.35L23.3 320.35M13.85 319.69L23.3 319.69M15.88 319.69L14.53 318.36L13.85 316.38L13.85 315.05L14.53 313.07L15.88 312.41L23.3 312.41M13.85 315.05L14.53 313.73L15.88 313.07L23.3 313.07M13.85 322.34L13.85 319.69M23.3 322.34L23.3 317.7M23.3 315.05L23.3 310.42M9.13 295.19L9.8 295.86L10.48 295.19L9.8 294.53L9.13 295.19M13.85 295.19L23.3 295.19M13.85 294.53L23.3 294.53M13.85 297.18L13.85 294.53M23.3 297.18L23.3 292.55M13.85 285.26L14.53 287.25L15.88 288.57L17.9 289.24L19.25 289.24L21.28 288.57L22.63 287.25L23.3 285.26L23.3 283.94L22.63 281.95L21.28 280.63L19.25 279.97L17.9 279.97L15.88 280.63L14.53 281.95L13.85 283.94L13.85 285.26M13.85 285.26L14.53 286.59L15.88 287.91L17.9 288.57L19.25 288.57L21.28 287.91L22.63 286.59L23.3 285.26M23.3 283.94L22.63 282.62L21.28 281.29L19.25 280.63L17.9 280.63L15.88 281.29L14.53 282.62L13.85 283.94M13.85 274.67L23.3 274.67M13.85 274.01L23.3 274.01M15.88 274.01L14.53 272.69L13.85 270.7L13.85 269.38L14.53 267.39L15.88 266.73L23.3 266.73M13.85 269.38L14.53 268.05L15.88 267.39L23.3 267.39M13.85 276.66L13.85 274.01M23.3 276.66L23.3 272.02M23.3 269.38L23.3 264.74M9.13 260.11L9.8 260.77L10.48 260.11L9.8 259.45L9.13 260.11M13.85 260.11L23.3 260.11M13.85 259.45L23.3 259.45M13.85 262.09L13.85 259.45M23.3 262.09L23.3 257.46M13.85 246.87L23.3 254.15M13.85 246.21L23.3 253.49M13.85 253.49L16.55 254.15L13.85 254.15L13.85 246.21M23.3 254.15L23.3 246.21L20.6 246.21L23.3 246.87M9.13 240.91L9.8 241.57L10.48 240.91L9.8 240.25L9.13 240.91M13.85 240.91L23.3 240.91M13.85 240.25L23.3 240.25M13.85 242.9L13.85 240.25M23.3 242.9L23.3 238.26M13.85 233.63L23.3 233.63M13.85 232.97L23.3 232.97M15.88 232.97L14.53 231.64L13.85 229.66L13.85 228.33L14.53 226.35L15.88 225.68L23.3 225.68M13.85 228.33L14.53 227.01L15.88 226.35L23.3 226.35M13.85 235.61L13.85 232.97M23.3 235.61L23.3 230.98M23.3 228.33L23.3 223.7M13.85 217.08L14.53 218.4L15.2 219.06L16.55 219.73L17.9 219.73L19.25 219.06L19.93 218.4L20.6 217.08L20.6 215.75L19.93 214.43L19.25 213.77L17.9 213.11L16.55 213.11L15.2 213.77L14.53 214.43L13.85 215.75L13.85 217.08M14.53 218.4L15.88 219.06L18.58 219.06L19.93 218.4M19.93 214.43L18.58 213.77L15.88 213.77L14.53 214.43M15.2 213.77L14.53 213.11L13.85 211.78L14.53 211.78L14.53 213.11M19.25 219.06L19.93 219.73L21.28 220.39L21.95 220.39L23.3 219.73L23.98 217.74L23.98 214.43L24.65 212.44L25.33 211.78M21.95 220.39L22.63 219.73L23.3 217.74L23.3 214.43L23.98 212.44L25.33 211.78L26 211.78L27.35 212.44L28.03 214.43L28.03 218.4L27.35 220.39L26 221.05L25.33 221.05L23.98 220.39L23.3 218.4M13.85 195.89L28.03 195.89M13.85 195.23L28.03 195.23M15.88 195.23L14.53 193.91L13.85 192.58L13.85 191.26L14.53 189.27L15.88 187.95L17.9 187.29L19.25 187.29L21.28 187.95L22.63 189.27L23.3 191.26L23.3 192.58L22.63 193.91L21.28 195.23M13.85 191.26L14.53 189.94L15.88 188.61L17.9 187.95L19.25 187.95L21.28 188.61L22.63 189.94L23.3 191.26M13.85 197.88L13.85 195.23M28.03 197.88L28.03 193.25M9.13 181.99L23.3 181.99M9.13 181.33L23.3 181.33M15.88 181.33L14.53 180.01L13.85 178.02L13.85 176.7L14.53 174.71L15.88 174.05L23.3 174.05M13.85 176.7L14.53 175.37L15.88 174.71L23.3 174.71M9.13 183.98L9.13 181.33M23.3 183.98L23.3 179.34M23.3 176.7L23.3 172.06M13.85 164.78L14.53 166.77L15.88 168.09L17.9 168.75L19.25 168.75L21.28 168.09L22.63 166.77L23.3 164.78L23.3 163.46L22.63 161.47L21.28 160.15L19.25 159.48L17.9 159.48L15.88 160.15L14.53 161.47L13.85 163.46L13.85 164.78M13.85 164.78L14.53 166.1L15.88 167.43L17.9 168.09L19.25 168.09L21.28 167.43L22.63 166.1L23.3 164.78M23.3 163.46L22.63 162.13L21.28 160.81L19.25 160.15L17.9 160.15L15.88 160.81L14.53 162.13L13.85 163.46M9.13 154.19L20.6 154.19L22.63 153.53L23.3 152.2L23.3 150.88L22.63 149.55L21.28 148.89M9.13 153.53L20.6 153.53L22.63 152.86L23.3 152.2M13.85 156.17L13.85 150.88M13.85 141.61L14.53 143.6L15.88 144.92L17.9 145.58L19.25 145.58L21.28 144.92L22.63 143.6L23.3 141.61L23.3 140.29L22.63 138.3L21.28 136.98L19.25 136.31L17.9 136.31L15.88 136.98L14.53 138.3L13.85 140.29L13.85 141.61M13.85 141.61L14.53 142.93L15.88 144.26L17.9 144.92L19.25 144.92L21.28 144.26L22.63 142.93L23.3 141.61M23.3 140.29L22.63 138.96L21.28 137.64L19.25 136.98L17.9 136.98L15.88 137.64L14.53 138.96L13.85 140.29M13.85 131.02L23.3 131.02M13.85 130.36L23.3 130.36M15.88 130.36L14.53 129.03L13.85 127.05L13.85 125.72L14.53 123.74L15.88 123.07L23.3 123.07M13.85 125.72L14.53 124.4L15.88 123.74L23.3 123.74M13.85 133L13.85 130.36M23.3 133L23.3 128.37M23.3 125.72L23.3 121.09M15.2 111.16L13.85 110.5L16.55 110.5L15.2 111.16L14.53 111.82L13.85 113.14L13.85 115.79L14.53 117.12L15.2 117.78L16.55 117.78L17.23 117.12L17.9 115.79L19.25 112.48L19.93 111.16L20.6 110.5M15.88 117.78L16.55 117.12L17.23 115.79L18.58 112.48L19.25 111.16L19.93 110.5L21.95 110.5L22.63 111.16L23.3 112.48L23.3 115.13L22.63 116.45L21.95 117.12L20.6 117.78L23.3 117.78L21.95 117.12M9.13 89.97L28.03 95.27M9.13 86L28.03 91.3M16.55 95.93L16.55 85.34M20.6 95.93L20.6 85.34M6.43 81.37L7.78 80.04L9.8 78.72L12.5 77.4L15.88 76.73L18.58 76.73L21.95 77.4L24.65 78.72L26.68 80.04L28.03 81.37M7.78 80.04L10.48 78.72L12.5 78.06L15.88 77.4L18.58 77.4L21.95 78.06L23.98 78.72L26.68 80.04" fill="none" stroke="#111" stroke-width="1.22" stroke-linecap="round" stroke-linejoin="round"/>
<path d="M390.53 525.5L390.53 539M391.17 525.5L395.04 537.07M390.53 525.5L395.04 539M399.56 525.5L395.04 539M399.56 525.5L399.56 539M400.2 525.5L400.2 539M388.59 525.5L391.17 525.5M399.56 525.5L402.13 525.5M388.59 539L392.46 539M397.62 539L402.13 539" fill="none" stroke="#111" stroke-width="1.15" stroke-linecap="round" stroke-linejoin="round"/>
<path d="M406 536.92L405.6 537.3L406 537.68L406.4 537.3L406 536.92M406 539.58L406 544.9M406.4 539.58L406.4 544.9M404.8 539.58L406.4 539.58M404.8 544.9L407.6 544.9M410.4 539.58L410.4 544.9M410.8 539.58L410.8 544.9M410.8 540.72L411.6 539.96L412.8 539.58L413.6 539.58L414.8 539.96L415.2 540.72L415.2 544.9M413.6 539.58L414.4 539.96L414.8 540.72L414.8 544.9M409.2 539.58L410.8 539.58M409.2 544.9L412 544.9M413.6 544.9L416.4 544.9M419.2 536.92L418.8 537.3L419.2 537.68L419.6 537.3L419.2 536.92M419.2 539.58L419.2 544.9M419.6 539.58L419.6 544.9M418 539.58L419.6 539.58M418 544.9L420.8 544.9M423.6 536.92L423.6 543.38L424 544.52L424.8 544.9L425.6 544.9L426.4 544.52L426.8 543.76M424 536.92L424 543.38L424.4 544.52L424.8 544.9M422.4 539.58L425.6 539.58" fill="none" stroke="#111" stroke-width="1.25" stroke-linecap="round" stroke-linejoin="round"/>
<path d="M440.5 523.5L429.16 544.62" fill="none" stroke="#111" stroke-width="1.15" stroke-linecap="round" stroke-linejoin="round"/>
<path d="M445.83 525.5L445.83 539M446.47 525.5L450.34 537.07M445.83 525.5L450.34 539M454.86 525.5L450.34 539M454.86 525.5L454.86 539M455.5 525.5L455.5 539M443.89 525.5L446.47 525.5M454.86 525.5L457.44 525.5M443.89 539L447.76 539M452.92 539L457.44 539" fill="none" stroke="#111" stroke-width="1.15" stroke-linecap="round" stroke-linejoin="round"/>
<circle cx="465.2" cy="540.4" r="4.35" fill="none" stroke="#111" stroke-width="1.2"/><circle cx="465.2" cy="540.4" r="1.2" fill="#111"/>
</svg>
</body></html>
